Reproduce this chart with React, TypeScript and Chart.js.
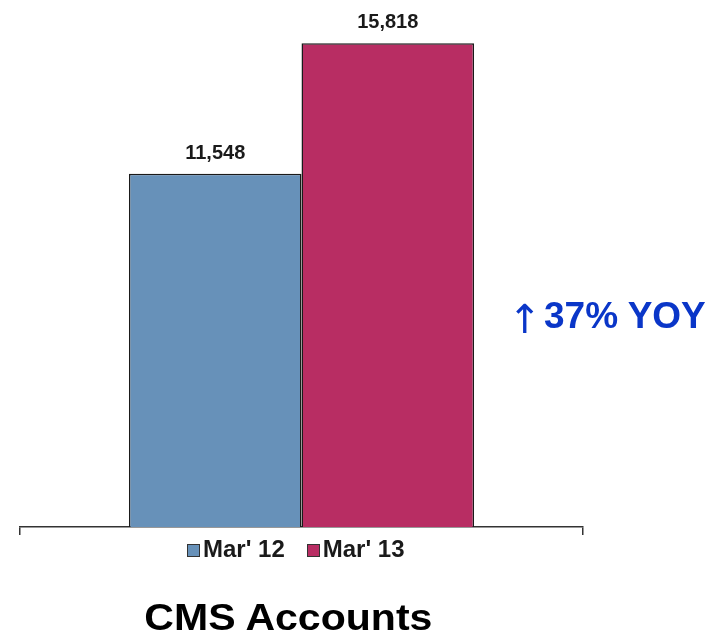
import React, { useEffect, useRef } from "react";
import { Chart, registerables } from "chart.js";

Chart.register(...registerables);

const categories: string[] = [""];
const seriesLabels: string[] = ["Mar' 12", "Mar' 13"];
const seriesValues: number[][] = [[11548], [15818]];
const seriesColors: string[] = ["#6791b9", "#b82d63"];
const yMin = 0;
const yMax = 17000;
const titleText = "CMS Accounts";
const yoyText = "37% YOY";

const FONT = "'Liberation Sans', Arial, Helvetica, sans-serif";

const valueLabelPlugin = {
  id: "valueLabels",
  afterDatasetsDraw(chart: any) {
    const ctx = chart.ctx;
    ctx.save();
    ctx.font = `bold 20px ${FONT}`;
    ctx.fillStyle = "#1a1a1a";
    ctx.textAlign = "center";
    ctx.textBaseline = "alphabetic";
    chart.data.datasets.forEach((ds: any, i: number) => {
      const meta = chart.getDatasetMeta(i);
      meta.data.forEach((el: any, j: number) => {
        const v = ds.data[j] as number;
        ctx.fillText(v.toLocaleString("en-US"), el.x, el.y - 15);
      });
    });
    ctx.restore();
  },
};

export default function App() {
  const ref = useRef<HTMLCanvasElement | null>(null);

  useEffect(() => {
    if (!ref.current) return;
    const chart = new Chart(ref.current, {
      type: "bar",
      data: {
        labels: categories,
        datasets: seriesLabels.map((label, i) => ({
          label,
          data: seriesValues[i],
          backgroundColor: seriesColors[i],
          borderColor: "#1a1a1a",
          borderWidth: 1.5,
          categoryPercentage: 0.613,
          barPercentage: 1,
        })),
      },
      options: {
        responsive: false,
        animation: false,
        devicePixelRatio: 1,
        layout: { padding: { left: 20, right: 138, top: 7, bottom: 102 } },
        scales: {
          x: {
            type: "category",
            offset: true,
            grid: {
              display: true,
              drawOnChartArea: false,
              drawTicks: true,
              tickLength: 8,
              color: "#333333",
              lineWidth: 1.5,
              offset: true,
            },
            border: { display: true, color: "#333333", width: 1.5 },
            ticks: { display: false },
          },
          y: { display: false, min: yMin, max: yMax },
        },
        plugins: {
          legend: { display: false },
          title: { display: false },
          tooltip: { enabled: false },
        },
      },
      plugins: [valueLabelPlugin],
    });
    return () => chart.destroy();
  }, []);

  return (
    <div style={{ position: "absolute", left: 0, top: 0, width: 721, height: 637, background: "#fff", fontFamily: FONT }}>
      <canvas ref={ref} width={721} height={637} style={{ position: "absolute", left: 0, top: 0, width: 721, height: 637 }} />
      <div
        style={{
          position: "absolute",
          left: 187,
          top: 537,
          height: 24,
          lineHeight: "24px",
          fontSize: 24,
          fontWeight: "bold",
          color: "#1a1a1a",
          whiteSpace: "nowrap",
        }}
      >
        {seriesLabels.map((l, i) => (
          <span key={l} style={{ marginRight: i === 0 ? 22 : 0 }}>
            <span
              style={{
                display: "inline-block",
                width: 11,
                height: 11,
                background: seriesColors[i],
                border: "1px solid #333",
                marginRight: 3,
                verticalAlign: "baseline",
              }}
            />
            {l}
          </span>
        ))}
      </div>
      <div
        style={{
          position: "absolute",
          left: 508,
          top: 299,
          fontSize: 40,
          lineHeight: 1,
          fontFamily: "'DejaVu Sans', sans-serif",
          fontWeight: "normal",
          color: "#0a36c8",
          whiteSpace: "nowrap",
        }}
      >
        ↑
      </div>
      <div
        style={{
          position: "absolute",
          left: 544,
          top: 297,
          fontSize: 37,
          lineHeight: 1,
          fontWeight: "bold",
          color: "#0a36c8",
          whiteSpace: "nowrap",
        }}
      >
        {yoyText}
      </div>
      <div
        style={{
          position: "absolute",
          left: 0,
          width: 576,
          top: 600,
          textAlign: "center",
          fontSize: 36,
          lineHeight: 1,
          fontWeight: "bold",
          color: "#000",
          whiteSpace: "nowrap",
        }}
      >
        <span style={{ display: "inline-block", transform: "scaleX(1.14)" }}>{titleText}</span>
      </div>
    </div>
  );
}
